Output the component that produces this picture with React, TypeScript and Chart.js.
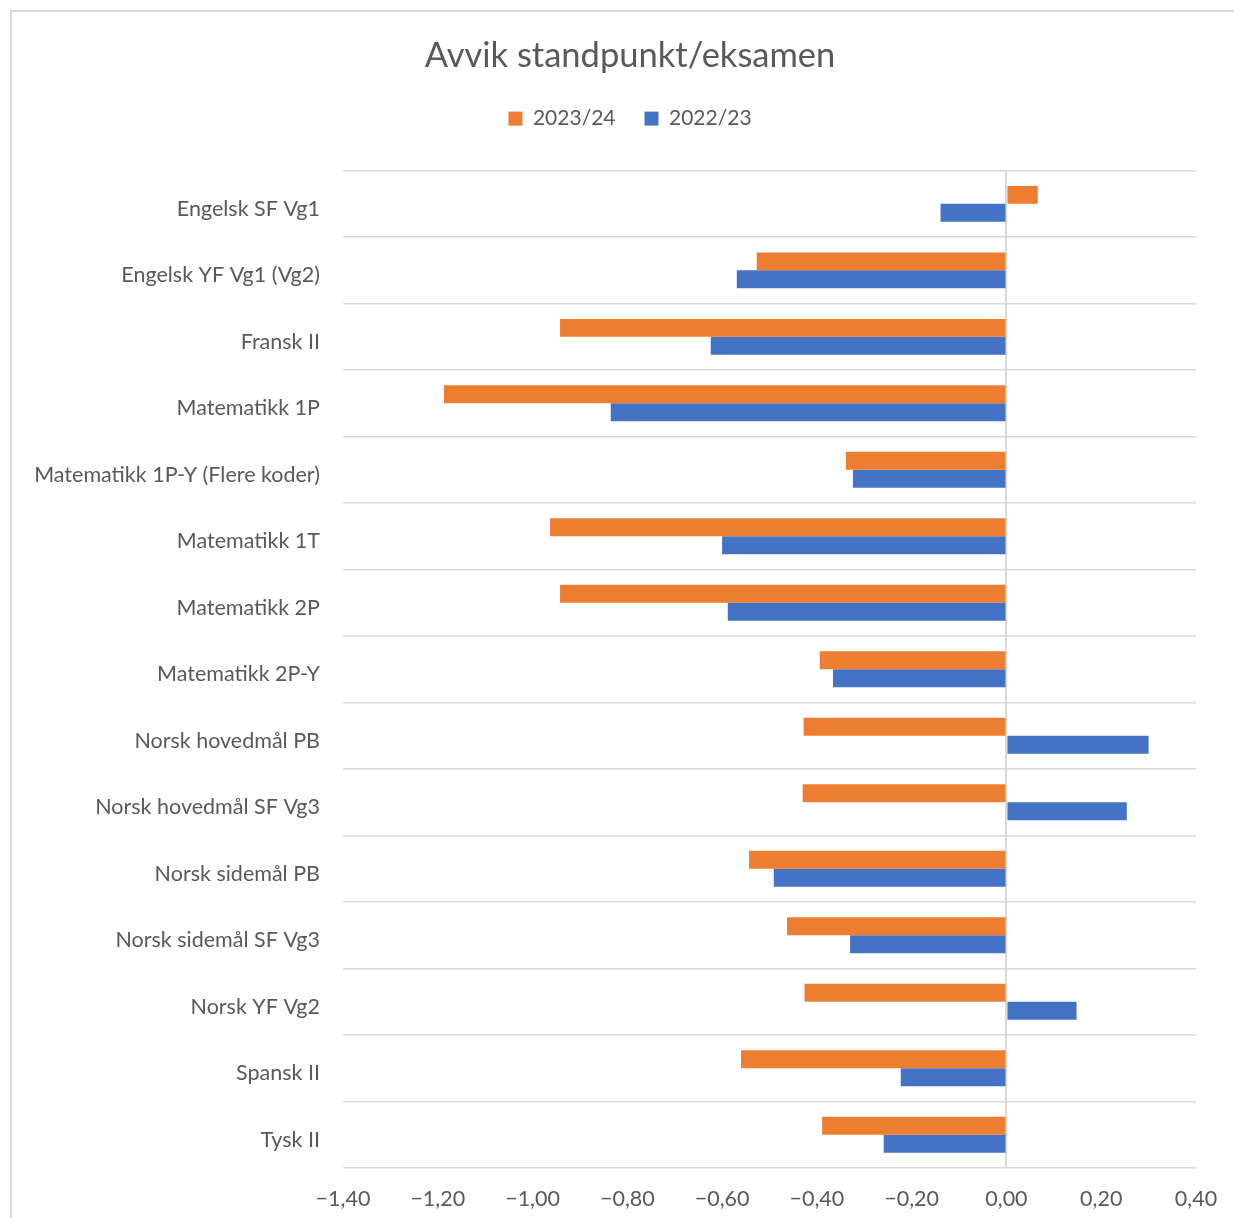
import React, { useEffect, useRef } from "react";
import { Chart, registerables } from "chart.js";

Chart.register(...registerables);

const categories = [
  "Engelsk SF Vg1",
  "Engelsk YF Vg1 (Vg2)",
  "Fransk II",
  "Matematikk 1P",
  "Matematikk 1P-Y (Flere koder)",
  "Matematikk 1T",
  "Matematikk 2P",
  "Matematikk 2P-Y",
  "Norsk hovedmål PB",
  "Norsk hovedmål SF Vg3",
  "Norsk sidemål PB",
  "Norsk sidemål SF Vg3",
  "Norsk YF Vg2",
  "Spansk II",
  "Tysk II",
];

const series2023_24 = [
  0.066, -0.527, -0.942, -1.187, -0.339, -0.963, -0.942, -0.394, -0.428, -0.43,
  -0.543, -0.463, -0.426, -0.56, -0.389,
];

const series2022_23 = [
  -0.139, -0.569, -0.624, -0.835, -0.324, -0.6, -0.588, -0.366, 0.3, 0.254,
  -0.491, -0.33, 0.148, -0.223, -0.259,
];

const seriesLabels = ["2023/24", "2022/23"];
const chartTitle = "Avvik standpunkt/eksamen";
const xMin = -1.4;
const xMax = 0.4;
const xStep = 0.2;

const fmt = (v: number) => {
  const r = Math.round(v * 100) / 100;
  const s = Math.abs(r).toFixed(2).replace(".", ",");
  return (r < 0 ? "\u2212" : "") + s;
};

const TEXT = "#595959";
const GRID = "#D9D9D9";
const FONT = "Lato";

export default function App() {
  const ref = useRef<HTMLCanvasElement | null>(null);

  useEffect(() => {
    if (!ref.current) return;
    const chart = new Chart(ref.current, {
      type: "bar",
      data: {
        labels: categories,
        datasets: [
          {
            label: seriesLabels[0],
            data: series2023_24,
            backgroundColor: "#ED7D31",
            borderWidth: 0,
            xAxisID: "x",
            yAxisID: "y",
          },
          {
            label: seriesLabels[1],
            data: series2022_23,
            backgroundColor: "#4472C4",
            borderWidth: 0,
            xAxisID: "x",
            yAxisID: "y",
          },
        ],
      },
      options: {
        indexAxis: "y",
        responsive: false,
        animation: false,
        datasets: {
          bar: { categoryPercentage: 0.54, barPercentage: 1.0 },
        },
        layout: { padding: { left: 0, right: 0, top: 0, bottom: 0 } },
        plugins: {
          title: {
            display: true,
            text: chartTitle,
            color: TEXT,
            font: { family: FONT, size: 34.5, weight: "normal" as any },
            padding: { top: 23.5, bottom: 2.2 },
          },
          legend: {
            display: true,
            position: "top",
            labels: {
              color: TEXT,
              font: { family: FONT, size: 21 },
              boxWidth: 14,
              boxHeight: 14,
              padding: 29,
            },
          },
          tooltip: { enabled: false },
        },
        scales: {
          y: {
            type: "category",
            position: "left",
            grid: {
              display: true,
              offset: true,
              color: GRID,
              lineWidth: 1.5,
              drawTicks: false,
            },
            border: { display: false },
            ticks: {
              color: TEXT,
              font: { family: FONT, size: 21.5 },
              padding: 23,
              labelOffset: 5,
            },
            afterFit: (s: any) => {
              s.width = 331;
            },
          },
          y2: {
            type: "linear",
            position: "right",
            display: true,
            grid: { display: false, drawTicks: false },
            border: { display: false },
            ticks: { display: false },
            afterFit: (s: any) => {
              s.width = 52;
            },
          },
          x: {
            type: "linear",
            position: "bottom",
            min: xMin,
            max: xMax,
            z: 1,
            grid: {
              display: true,
              drawTicks: false,
              lineWidth: 2,
              color: (ctx: any) =>
                ctx.tick && Math.abs(ctx.tick.value) < 1e-9 ? GRID : "rgba(0,0,0,0)",
            },
            border: { display: false },
            ticks: {
              stepSize: xStep,
              color: TEXT,
              font: { family: FONT, size: 21.5 },
              padding: 18.5,
              callback: (v: any) => fmt(Number(v)),
            },
            afterFit: (s: any) => {
              s.height = 50;
            },
          },
          x2: {
            type: "linear",
            position: "top",
            display: true,
            grid: { display: false, drawTicks: false },
            border: { display: false },
            ticks: { display: false },
            afterFit: (s: any) => {
              s.height = 31.5;
            },
          },
        },
      },
    } as any);
    return () => chart.destroy();
  }, []);

  return (
    <div
      style={{
        position: "absolute",
        left: 10,
        top: 10,
        width: 1224,
        height: 1208,
        boxSizing: "border-box",
        borderTop: "2px solid #D9D9D9",
        borderLeft: "2px solid #D9D9D9",
        background: "#FFFFFF",
        overflow: "hidden",
      }}
    >
      <canvas
        ref={ref}
        width={1236}
        height={1206}
        style={{ display: "block", width: 1236, height: 1206 }}
      />
    </div>
  );
}
